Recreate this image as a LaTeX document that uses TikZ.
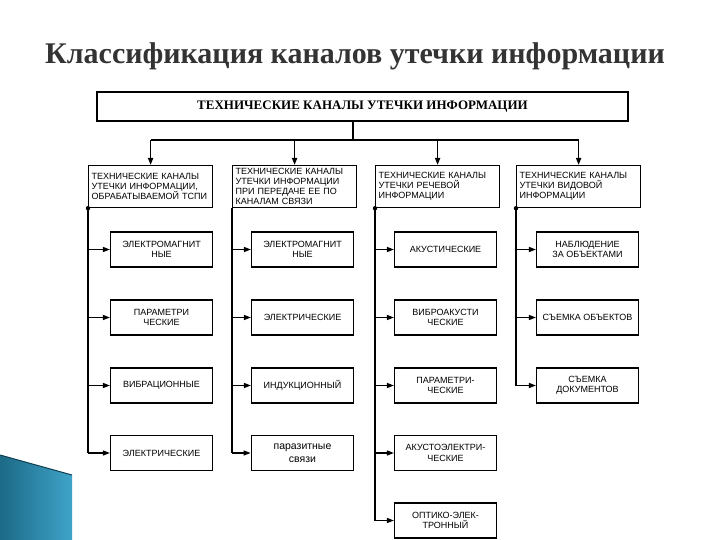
\documentclass[tikz,border=0pt]{standalone}
\usepackage{fontspec}
\setmainfont{Liberation Serif}
\setsansfont{Liberation Sans}
\usetikzlibrary{arrows.meta,positioning}
\definecolor{titlegray}{HTML}{333333}
\definecolor{tealdark}{HTML}{1B6A86}
\definecolor{teallight}{HTML}{3FA3C9}
\begin{document}
\begin{tikzpicture}[x=1pt, y=-1pt, line width=1.2pt,
  title/.style={font=\bfseries\fontsize{30}{34}\selectfont, text=titlegray},
  topbox/.style={draw, line width=2.5pt, minimum width=531pt, minimum height=29pt, font=\bfseries\fontsize{13}{15}\selectfont},
  head/.style={draw, anchor=north west, text width=118pt, inner xsep=3pt, inner ysep=1pt, minimum height=42pt, align=left, font=\sffamily\fontsize{9}{10}\selectfont},
  item/.style={draw, minimum width=102pt, minimum height=35pt, align=center, font=\sffamily\fontsize{9}{10.5}\selectfont},
  feed/.style={-{Triangle[length=7pt,width=5pt]}},
  trunk/.style={line width=1.6pt}]
\useasboundingbox (0,0) rectangle (720,540);
% corner decoration
\shade[left color=tealdark, right color=teallight] (0,455) -- (72,475) -- (72,540) -- (0,540) -- cycle;
\draw[tealdark!60!black, line width=1pt] (0,455) -- (72,475);

\node[title] (title) at (355,56) {Классификация каналов утечки информации};
\node[topbox] (top) at (362.5,106.5) {ТЕХНИЧЕСКИЕ КАНАЛЫ УТЕЧКИ ИНФОРМАЦИИ};

% column headers
\node[head] (h1) at (88,165) {ТЕХНИЧЕСКИЕ КАНАЛЫ\\УТЕЧКИ ИНФОРМАЦИИ,\\ОБРАБАТЫВАЕМОЙ~ТСПИ};
\node[head] (h2) at (232,165) {ТЕХНИЧЕСКИЕ КАНАЛЫ\\УТЕЧКИ ИНФОРМАЦИИ\\ПРИ ПЕРЕДАЧЕ ЕЕ ПО\\КАНАЛАМ СВЯЗИ};
\node[head] (h3) at (375,165) {ТЕХНИЧЕСКИЕ КАНАЛЫ\\УТЕЧКИ РЕЧЕВОЙ\\ИНФОРМАЦИИ};
\node[head] (h4) at (516,165) {ТЕХНИЧЕСКИЕ КАНАЛЫ\\УТЕЧКИ ВИДОВОЙ\\ИНФОРМАЦИИ};

% column 1
\node[item] (c11) at (161.5,249.5) {ЭЛЕКТРОМАГНИТ\\НЫЕ};
\node[item] (c12) at (161.5,317.5) {ПАРАМЕТРИ\\ЧЕСКИЕ};
\node[item] (c13) at (161.5,385.5) {ВИБРАЦИОННЫЕ};
\node[item] (c14) at (161.5,453) {ЭЛЕКТРИЧЕСКИЕ};
% column 2
\node[item] (c21) at (302.5,249.5) {ЭЛЕКТРОМАГНИТ\\НЫЕ};
\node[item] (c22) at (302.5,317.5) {ЭЛЕКТРИЧЕСКИЕ};
\node[item] (c23) at (302.5,385.5) {ИНДУКЦИОННЫЙ};
\node[item, line width=1.8pt, font=\sffamily\fontsize{10.5}{12.5}\selectfont] (c24) at (302.5,453) {паразитные\\связи};
% column 3
\node[item] (c31) at (445.5,249.5) {АКУСТИЧЕСКИЕ};
\node[item] (c32) at (445.5,317.5) {ВИБРОАКУСТИ\\ЧЕСКИЕ};
\node[item] (c33) at (445.5,385.5) {ПАРАМЕТРИ-\\ЧЕСКИЕ};
\node[item] (c34) at (445.5,453) {АКУСТОЭЛЕКТРИ-\\ЧЕСКИЕ};
\node[item] (c35) at (445.5,520.5) {ОПТИКО-ЭЛЕК-\\ТРОННЫЙ};
% column 4
\node[item] (c41) at (587.5,249.5) {НАБЛЮДЕНИЕ\\ЗА ОБЪЕКТАМИ};
\node[item] (c42) at (587.5,317.5) {СЪЕМКА ОБЪЕКТОВ};
\node[item] (c43) at (587.5,385.5) {СЪЕМКА\\ДОКУМЕНТОВ};

% top bus
\coordinate (bus) at (353,140);
\draw[trunk] (top.south -| bus) -- (bus);
\draw[trunk] (h1.north |- bus) -- (h4.north |- bus);
\foreach \c in {1,...,4}
  \draw[trunk, feed] (h\c.north |- bus) -- (h\c.north);

% column trunks
\foreach \c/\last in {1/4,2/4,3/5,4/3} {
  \draw[trunk] (h\c.south west) -- (h\c.south west |- c\c\last.west);
  \foreach \r in {1,...,\last}
    \draw[feed] (h\c.south west |- c\c\r.west) -- (c\c\r.west);
}
\foreach \c in {1,3,4}
  \fill (h\c.south west) circle (2.2pt);
\end{tikzpicture}
\end{document}
